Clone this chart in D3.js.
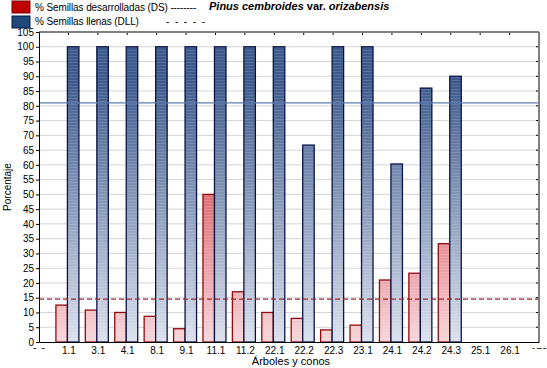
<!DOCTYPE html>
<html>
<head>
<meta charset="utf-8">
<script src="https://cdn.jsdelivr.net/npm/d3@7"></script>
<style>
  body { margin: 0; background: #fff; }
  svg { font-family: "Liberation Sans", Arial, sans-serif; }
  .axis text { font-size: 10px; fill: #000; }
</style>
</head>
<body>
<svg id="chart" width="547" height="368"></svg>
<script>
// data
const categories = ["1.1", "3.1", "4.1", "8.1", "9.1", "11.1", "11.2", "22.1", "22.2", "22.3", "23.1", "24.1", "24.2", "24.3", "25.1", "26.1"];
const desarrolladas = [12.5, 10.8, 10, 8.7, 4.5, 50, 17, 10, 8, 4.1, 5.7, 21, 23.3, 33.3, 0, 0];
const llenas = [100, 100, 100, 100, 100, 100, 100, 100, 66.7, 100, 100, 60.3, 86, 90, 0, 0];
const meanDS = 14.5;
const meanDLL = 81;
const yTicks = d3.range(0, 106, 5);

const margin = {top: 32, right: 8, bottom: 26, left: 39};
const width = 547 - margin.left - margin.right;
const height = 368 - margin.top - margin.bottom;

const svg = d3.select('#chart');
const defs = svg.append('defs');

// x positions: categories sit at 1..16 on a 0..17 axis
const x = d3.scaleLinear().domain([0, categories.length + 1]).range([0, width]);
const y = d3.scaleLinear().domain([0, 105]).range([height, 0]);

// gradients run over the whole plot height, like the original
function gradient(id, top, bottom) {
    const g = defs.append('linearGradient')
        .attr('id', id)
        .attr('gradientUnits', 'userSpaceOnUse')
        .attr('x1', 0).attr('x2', 0)
        .attr('y1', margin.top + y(100)).attr('y2', margin.top + height);
    g.append('stop').attr('offset', 0).attr('stop-color', top);
    g.append('stop').attr('offset', 1).attr('stop-color', bottom);
}
gradient('gradBlue', '#3d5a8c', '#eef1f8');
gradient('gradRed', '#c81e2a', '#fcecee');

// faint horizontal stripes on top of the fills
const stripes = defs.append('pattern')
    .attr('id', 'stripes')
    .attr('patternUnits', 'userSpaceOnUse')
    .attr('width', 4).attr('height', 3);
stripes.append('rect').attr('width', 4).attr('height', 1).attr('fill', 'rgba(255,255,255,0.12)');

const g = svg.append('g').attr('transform', `translate(${margin.left},${margin.top})`);

// gridlines
g.append('g')
    .selectAll('line')
    .data(yTicks.filter(d => d > 0 && d < 105))
    .join('line')
    .attr('x1', 0).attr('x2', width)
    .attr('y1', d => y(d)).attr('y2', d => y(d))
    .attr('stroke', '#d4d4d4')
    .attr('stroke-width', 1);

// bars
const barW = 11.5;
const bars = g.append('g');
function drawBars(values, offset, fill, stroke) {
    const sel = bars.append('g');
    const items = values.map((v, i) => ({v, i})).filter(d => d.v > 0);
    sel.selectAll('rect.fill')
        .data(items)
        .join('rect')
        .attr('class', 'fill')
        .attr('x', d => x(d.i + 1) + offset)
        .attr('y', d => y(d.v))
        .attr('width', barW)
        .attr('height', d => y(0) - y(d.v))
        .attr('fill', fill);
    sel.selectAll('rect.out')
        .data(items)
        .join('rect')
        .attr('class', 'out')
        .attr('x', d => x(d.i + 1) + offset)
        .attr('y', d => y(d.v))
        .attr('width', barW)
        .attr('height', d => y(0) - y(d.v))
        .attr('fill', 'url(#stripes)')
        .attr('stroke', stroke)
        .attr('stroke-width', 1.3);
}
drawBars(desarrolladas, -barW - 1, 'url(#gradRed)', '#8e0b12');
drawBars(llenas, -1, 'url(#gradBlue)', '#0b1448');

// mean lines
g.append('line')
    .attr('x1', 0).attr('x2', width)
    .attr('y1', y(meanDLL)).attr('y2', y(meanDLL))
    .attr('stroke', '#5c7cae').attr('stroke-width', 1.2);
g.append('line')
    .attr('x1', 0).attr('x2', width)
    .attr('y1', y(meanDS)).attr('y2', y(meanDS))
    .attr('stroke', '#a0242c').attr('stroke-width', 1.2)
    .attr('stroke-dasharray', '5,3');

// frame: top and right in grey
g.append('line').attr('x1', 0).attr('x2', width).attr('y1', 0).attr('y2', 0)
    .attr('stroke', '#808080').attr('stroke-width', 2);
g.append('line').attr('x1', width).attr('x2', width).attr('y1', 0).attr('y2', height)
    .attr('stroke', '#808080').attr('stroke-width', 2);

// small ticks on the top and right borders
g.append('g').selectAll('line')
    .data(d3.range(1, categories.length + 1))
    .join('line')
    .attr('x1', d => x(d)).attr('x2', d => x(d))
    .attr('y1', 1).attr('y2', 3)
    .attr('stroke', '#000');
g.append('g').selectAll('line')
    .data(yTicks.filter(d => d > 0 && d < 105))
    .join('line')
    .attr('x1', width - 3).attr('x2', width - 1)
    .attr('y1', d => y(d)).attr('y2', d => y(d))
    .attr('stroke', '#000');

// axes
const yAxis = d3.axisLeft(y).tickValues(yTicks).tickSize(3).tickSizeOuter(0);
g.append('g').attr('class', 'axis').call(yAxis)
    .call(s => s.select('.domain').attr('stroke', '#000'))
    .call(s => s.selectAll('text').attr('dx', '1px'));

const xAxis = d3.axisBottom(x)
    .tickValues(d3.range(1, categories.length + 1))
    .tickFormat(i => categories[i - 1])
    .tickSize(0).tickSizeOuter(0).tickPadding(5);
g.append('g').attr('class', 'axis')
    .attr('transform', `translate(0,${height})`)
    .call(xAxis)
    .call(s => s.select('.domain').attr('stroke', '#000'));

// clipped end labels of the numeric x axis
defs.append('clipPath').attr('id', 'endClip')
    .append('rect').attr('x', -20).attr('y', height + 4).attr('width', width + 40).attr('height', 3);
g.append('g').attr('clip-path', 'url(#endClip)')
    .selectAll('text')
    .data([[0, '0.0'], [categories.length + 1, '170']])
    .join('text')
    .attr('x', d => x(d[0]))
    .attr('y', height + 14)
    .attr('text-anchor', 'middle')
    .style('font-size', '10px')
    .text(d => d[1]);

// axis titles
svg.append('text')
    .attr('transform', `translate(11,${margin.top + height / 2}) rotate(-90)`)
    .attr('text-anchor', 'middle')
    .style('font-size', '10px')
    .text('Porcentaje');
svg.append('text')
    .attr('x', margin.left + width / 2 + 2)
    .attr('y', 365)
    .attr('text-anchor', 'middle')
    .style('font-size', '11px')
    .text('Árboles y conos');

// legend
const legend = svg.append('g');
legend.append('rect').attr('x', 12).attr('y', 1).attr('width', 18).attr('height', 12)
    .attr('fill', '#c00000').attr('stroke', '#7a0000');
legend.append('rect').attr('x', 12).attr('y', 16).attr('width', 18).attr('height', 12)
    .attr('fill', '#1f497d').attr('stroke', '#0b1448');
legend.append('text').attr('x', 35).attr('y', 11)
    .style('font-size', '10px').style('letter-spacing', '-0.1px')
    .text('% Semillas desarrolladas (DS) --------');
legend.append('text').attr('x', 35).attr('y', 25)
    .style('font-size', '10px').style('letter-spacing', '-0.1px')
    .text('% Semillas llenas (DLL)');
legend.append('text').attr('x', 166).attr('y', 25)
    .style('font-size', '10px').style('letter-spacing', '1.4px')
    .text('- - - - -');

const title = svg.append('text').attr('x', 209).attr('y', 10)
    .style('font-size', '11px').style('font-weight', 'bold');
title.append('tspan').style('font-style', 'italic').text('Pinus cembroides');
title.append('tspan').text(' var. ');
title.append('tspan').style('font-style', 'italic').text('orizabensis');
</script>
</body>
</html>
